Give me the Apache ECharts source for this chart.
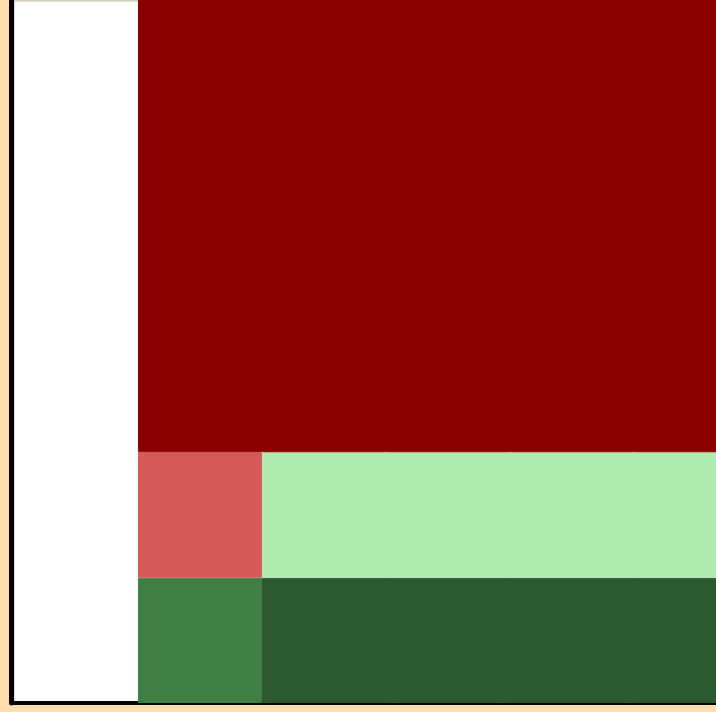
<!DOCTYPE html>
<html>
<head>
<meta charset="utf-8">
<script src="https://cdn.jsdelivr.net/npm/echarts@6/dist/echarts.min.js"></script>
<style>html,body{margin:0;padding:0;background:#FFDEAD;}#c{width:716px;height:712px;}</style>
</head>
<body>
<div id="c"></div>
<script>
var categories = ['A', 'B', 'C', 'D', 'E', 'F'];
var lowB = [null, 1, null, null, null, null];
var lowRest = [null, null, 1, 1, 1, 1];
var midB = [null, 1, null, null, null, null];
var midRest = [null, null, 1, 1, 1, 1];
var topBand = [null, 4, 4, 4, 4, 4];

var chart = echarts.init(document.getElementById('c'));
function bar(name, data, color) {
  return {
    name: name, type: 'bar', stack: 'total', data: data,
    barCategoryGap: '0%', clip: false,
    itemStyle: { color: color, borderColor: color, borderWidth: 1 },
    emphasis: { disabled: true },
    animation: false
  };
}
chart.setOption({
  animation: false,
  backgroundColor: '#FFDEAD',
  grid: {
    show: true, left: 14, top: 1, width: 744, bottom: 9,
    outerBoundsMode: 'none', containLabel: false,
    backgroundColor: '#ffffff', borderColor: '#bbbbbb', borderWidth: 1
  },
  xAxis: {
    type: 'category', data: categories, offset: 2,
    axisLine: { show: true, lineStyle: { color: '#000', width: 4 } },
    axisTick: { show: false }, axisLabel: { show: false },
    splitLine: { show: false }, splitArea: { show: false }
  },
  yAxis: {
    type: 'value', min: 0, max: 5.6, offset: 3,
    axisLine: { show: true, lineStyle: { color: '#000', width: 5 } },
    axisTick: { show: false }, axisLabel: { show: false },
    splitLine: { show: false }, splitArea: { show: false }
  },
  series: [
    bar('lowB', lowB, '#3F7F45'),
    bar('lowRest', lowRest, '#2C5A2E'),
    bar('midB', midB, '#D65A5A'),
    bar('midRest', midRest, '#B0EBB0'),
    bar('top', topBand, '#8B0000')
  ]
});
</script>
</body>
</html>
